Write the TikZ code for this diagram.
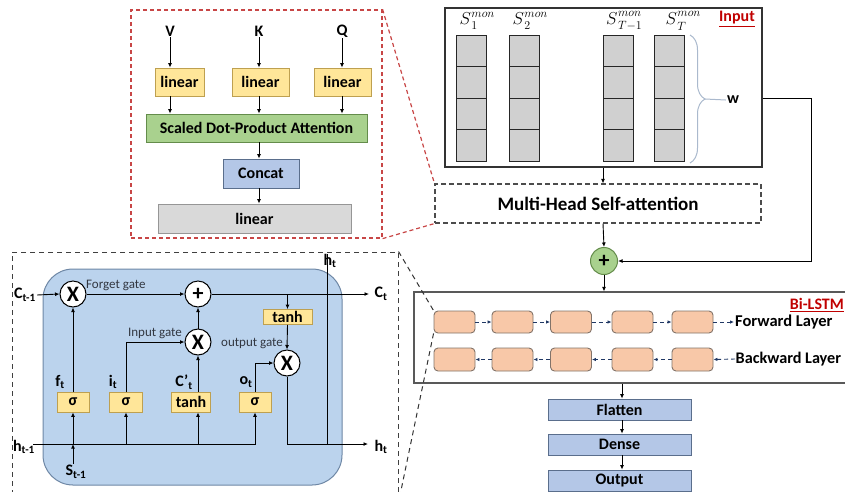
\documentclass[tikz,border=0pt]{standalone}
\usepackage{fontspec}
\setmainfont{Carlito}
\usetikzlibrary{arrows.meta,decorations.pathreplacing,calc}
\newcommand\fsz[1]{\fontsize{#1}{#1}\selectfont}
\newcommand\smonlbl[1]{$S$\kern0.5pt\raisebox{-0.3em}{\shortstack[l]{\fsz{12}$mon$\\[2pt]\fsz{12}$#1$}}}
\definecolor{yfill}{RGB}{255,230,153}
\definecolor{ydraw}{RGB}{190,160,80}
\definecolor{gfill}{RGB}{169,209,142}
\definecolor{gdraw}{RGB}{100,140,75}
\definecolor{bfill}{RGB}{180,199,231}
\definecolor{bdraw}{RGB}{90,110,140}
\definecolor{grfill}{RGB}{217,217,217}
\definecolor{grdraw}{RGB}{150,150,150}
\definecolor{cellfill}{RGB}{208,208,208}
\definecolor{lstmfill}{RGB}{187,211,237}
\definecolor{lstmdraw}{RGB}{110,135,165}
\definecolor{ofill}{RGB}{248,200,168}
\definecolor{odraw}{RGB}{130,115,105}
\definecolor{redtxt}{RGB}{192,0,0}
\definecolor{redframe}{RGB}{200,70,70}
\definecolor{navy}{RGB}{32,56,100}
\definecolor{bracecol}{RGB}{170,185,205}
\definecolor{gatetxt}{RGB}{50,55,65}
\begin{document}
\begin{tikzpicture}[x=1pt,y=-1pt,
  font=\bfseries\fsz{16},
  arr/.style={-{Latex[length=4.5pt,width=4pt]}, line width=0.9pt},
  ln/.style={line width=0.9pt},
  ybox/.style={draw=ydraw, fill=yfill, line width=0.8pt, inner sep=0pt},
  gbox/.style={draw=gdraw, fill=gfill, line width=0.8pt, inner sep=0pt},
  bbox/.style={draw=bdraw, fill=bfill, line width=0.8pt, inner sep=0pt},
  grbox/.style={draw=grdraw, fill=grfill, line width=0.8pt, inner sep=0pt},
  obox/.style={draw=odraw, fill=ofill, line width=0.9pt, rounded corners=4pt, minimum width=41pt, minimum height=22pt, inner sep=0pt},
  darr/.style={-{Latex[length=4pt,width=3.5pt]}, draw=navy, line width=0.9pt, dash pattern=on 4pt off 3pt},
  opc/.style={circle, draw=black, fill=white, line width=1pt, minimum size=26pt, inner sep=0pt, font=\bfseries\fsz{22}},
  cell/.style={draw=black!85, fill=cellfill, line width=0.8pt},
  lbl/.style={inner sep=1pt},
  slbl/.style={inner sep=0pt, font=\fsz{18}},
  gate/.style={inner sep=1pt, font=\fsz{13}, text=gatetxt}
]
\useasboundingbox (0,0) rectangle (845,491);

% ================= Attention panel =================
\node[draw=redframe, dash pattern=on 4pt off 3pt, line width=1.2pt, minimum width=251pt, minimum height=228pt, inner sep=0pt] (af) at (256.5,124) {};
\node[lbl] (V) at (170,31) {V};
\node[lbl] (K) at (259,31) {K};
\node[lbl] (Q) at (342,31) {Q};
\node[ybox, minimum width=49pt, minimum height=28pt] (lin1) at (179.5,82) {linear};
\node[ybox, minimum width=57pt, minimum height=28pt] (lin2) at (260.5,82) {linear};
\node[ybox, minimum width=57pt, minimum height=28pt] (lin3) at (342.5,82) {linear};
\node[gbox, minimum width=221pt, minimum height=28pt] (sdpa) at (256.5,128) {Scaled Dot-Product Attention};
\node[bbox, minimum width=76pt, minimum height=29pt] (concat) at (261,173.5) {Concat};
\node[grbox, minimum width=193pt, minimum height=29pt] (lout) at (254.5,218.5) {linear};
\draw[arr] (V.south) -- (V.south |- lin1.north);
\draw[arr] (K.south) -- (K.south |- lin2.north);
\draw[arr] (Q.south) -- (Q.south |- lin3.north);
\draw[arr] (V.south |- lin1.south) -- (V.south |- sdpa.north);
\draw[arr] (K.south |- lin2.south) -- (K.south |- sdpa.north);
\draw[arr] (Q.south |- lin3.south) -- (Q.south |- sdpa.north);
\coordinate (cx) at (259,0);
\draw[arr] (cx |- sdpa.south) -- (cx |- concat.north);
\draw[arr] (cx |- concat.south) -- (cx |- lout.north);

% ================= Input panel =================
\node[draw=black!80, line width=1.5pt, minimum width=317pt, minimum height=159pt, inner sep=0pt] (inbox) at (603.5,87.5) {};
\foreach \xx in {456,509,603,654}{
  \foreach \k in {0,1,2,3}{
    \draw[cell] (\xx,35+31.5*\k) rectangle ++(30,31.5);
  }
}
\node[slbl] (s1) at (477,21) {\smonlbl{1}};
\node[slbl] (s2) at (530,21) {\smonlbl{2}};
\node[slbl] (s3) at (624,21) {\smonlbl{T{-}1}};
\node[slbl] (s4) at (683,21) {\smonlbl{T}};
\node[lbl, text=redtxt] (inlbl) at (737,19) {\underline{Input}};
\draw[draw=bracecol, line width=1pt, decorate, decoration={brace, amplitude=15pt}] (690,35) -- (690,163);
\coordinate (wtip) at (705,99);
\node[lbl] (w) at (733,100) {w};
\draw[draw=bracecol, line width=1pt] (wtip) -- (w.west);

% Multi-head
\node[draw=black!70, dash pattern=on 5pt off 3pt, line width=1.1pt, minimum width=326pt, minimum height=39pt, inner sep=0pt, font=\bfseries\fsz{19}] (mh) at (598,203.5) {Multi-Head Self-attention};
\draw[draw=redframe, dash pattern=on 4pt off 3pt, line width=1.2pt] (af.north east) -- (mh.north west);
\draw[draw=redframe, dash pattern=on 4pt off 3pt, line width=1.2pt] (af.south east) -- (mh.south west);
\coordinate (mx) at (603,0);
\draw[arr] (mx |- inbox.south) -- (mx |- mh.north);

% plus
\node[circle, draw=gdraw, fill=gfill, line width=1pt, minimum size=27pt, inner sep=0pt, font=\bfseries\fsz{22}] (pl) at (604,261) {+};
\draw[arr] (mx |- mh.south) -- (pl.north);
\coordinate (rt) at (811,98);
\draw[arr] (inbox.east |- rt) -- (rt) |- (pl.east);

% ================= Bi-LSTM =================
\node[draw=black!65, line width=1.2pt, minimum width=450pt, minimum height=91pt, inner sep=0pt] (bl) at (639,337.5) {};
\node[lbl, text=redtxt, anchor=east, inner sep=0pt] (bllbl) at (844,305) {\underline{Bi-LSTM}};
\draw[arr] (pl.south) -- (pl.south |- bl.north);
\foreach \i/\xx in {1/454.5,2/512.5,3/571,4/632.5,5/692.5}{
  \node[obox] (fw\i) at (\xx,322) {};
  \node[obox, minimum height=23pt] (bw\i) at (\xx,359.5) {};
}
\foreach \i/\j in {1/2,2/3,3/4,4/5}{
  \draw[darr] (fw\i.east) -- (fw\j.west);
  \draw[darr] (bw\j.west) -- (bw\i.east);
}
\node[lbl, anchor=west, font=\bfseries\fsz{16.5}] (fwl) at (734,322) {Forward Layer};
\node[lbl, anchor=west, font=\bfseries\fsz{16.2}, inner sep=0.5pt] (bwl) at (735,359) {Backward Layer};
\draw[darr] (fw5.east) -- (fwl.west);
\draw[darr] (bwl.west) -- (bw5.east);

% output stack
\node[bbox, minimum width=143pt, minimum height=21pt] (fl) at (619.5,409.5) {Flatten};
\node[bbox, minimum width=143pt, minimum height=21pt] (de) at (619.5,444.5) {Dense};
\node[bbox, minimum width=143pt, minimum height=21pt] (ou) at (619.5,480.5) {Output};
\coordinate (ox) at (622,0);
\draw[arr] (ox |- bl.south) -- (ox |- fl.north);
\draw[arr] (ox |- fl.south) -- (ox |- de.north);
\draw[arr] (ox |- de.south) -- (ox |- ou.north);

% ================= LSTM panel =================
\node[draw=black!75, dash pattern=on 5pt off 4pt, line width=1pt, minimum width=386pt, minimum height=250pt, inner sep=0pt] (lf) at (205,377) {};
\draw[draw=black!80, dash pattern=on 5pt off 4pt, line width=1pt] (lf.north east) -- (fw1.north west);
\draw[draw=black!80, dash pattern=on 5pt off 4pt, line width=1pt] (fw1.south west) -- (lf.south east);
\node[draw=lstmdraw, fill=lstmfill, line width=1pt, rounded corners=30pt, minimum width=299pt, minimum height=216pt, inner sep=0pt] (lbg) at (192.5,377) {};

\node[opc] (fX) at (73,294) {X};
\node[opc] (pl2) at (198,294) {+};
\node[opc] (iX) at (198,342) {X};
\node[opc] (oX) at (287,363) {X};
\node[ybox, minimum width=32pt, minimum height=20pt] (g1) at (73,402) {σ};
\node[ybox, minimum width=33pt, minimum height=20pt] (g2) at (126,402) {σ};
\node[ybox, minimum width=39pt, minimum height=20pt] (g3) at (191,402) {tanh};
\node[ybox, minimum width=32pt, minimum height=20pt] (g4) at (255,402) {σ};
\node[ybox, minimum width=49pt, minimum height=15pt] (tt) at (287.5,317) {tanh};

\node[lbl] (Ctm1) at (25,295) {C\textsubscript{t-1}};
\node[lbl] (htm1) at (24,447) {h\textsubscript{t-1}};
\node[lbl] (Stm1) at (76,472) {S\textsubscript{t-1}};
\node[lbl] (Ct) at (381,294) {C\textsubscript{t}};
\node[lbl] (ht) at (381,447) {h\textsubscript{t}};
\node[lbl] (htop) at (330,261) {h\textsubscript{t}};
\node[lbl] (ft) at (60,382) {f\textsubscript{t}};
\node[lbl] (it) at (113,382) {i\textsubscript{t}};
\node[lbl] (cpt) at (184,382) {C'\textsubscript{t}};
\node[lbl] (ot) at (246,382) {o\textsubscript{t}};
\node[gate, anchor=west] (fg) at (85,285) {Forget gate};
\node[gate] (ig) at (155,333) {Input gate};
\node[gate] (og) at (252,343) {output gate};

\coordinate (hs) at (33,444);
\coordinate (ctend) at (369,294);
\coordinate (htend) at (368,444);
\coordinate (hv) at (327,444);
\coordinate (hvt) at (327,254);

\draw[arr] (Ctm1.east) -- (fX.west);
\draw[arr] (fX.east) -- (pl2.west);
\draw[arr] (pl2.east) -- (ctend);
\draw[arr] (tt.north |- pl2) -- (tt.north);
\draw[arr] (tt.south) -- (oX.north);
\draw[arr] (g1.north) -- (fX.south);
\draw[arr] (g2.north) |- (iX.west);
\draw[arr] (g3.north -| iX) -- (iX.south);
\draw[arr] (iX.north) -- (pl2.south);
\draw[arr] (g4.north) |- (oX.west);
\draw[arr] (oX.south) |- (htend);
\draw[ln] (hv) -- (hvt);
\draw[arr] (hs) -- (hs -| g4) -- (g4.south);
\draw[arr] (hs -| g2) -- (g2.south);
\draw[arr] (hs -| iX) -- (iX |- g3.south);
\draw[arr] (g1.south |- Stm1.north) -- (g1.south |- hs);
\draw[arr] (g1.south |- hs) -- (g1.south);
\end{tikzpicture}
\end{document}
